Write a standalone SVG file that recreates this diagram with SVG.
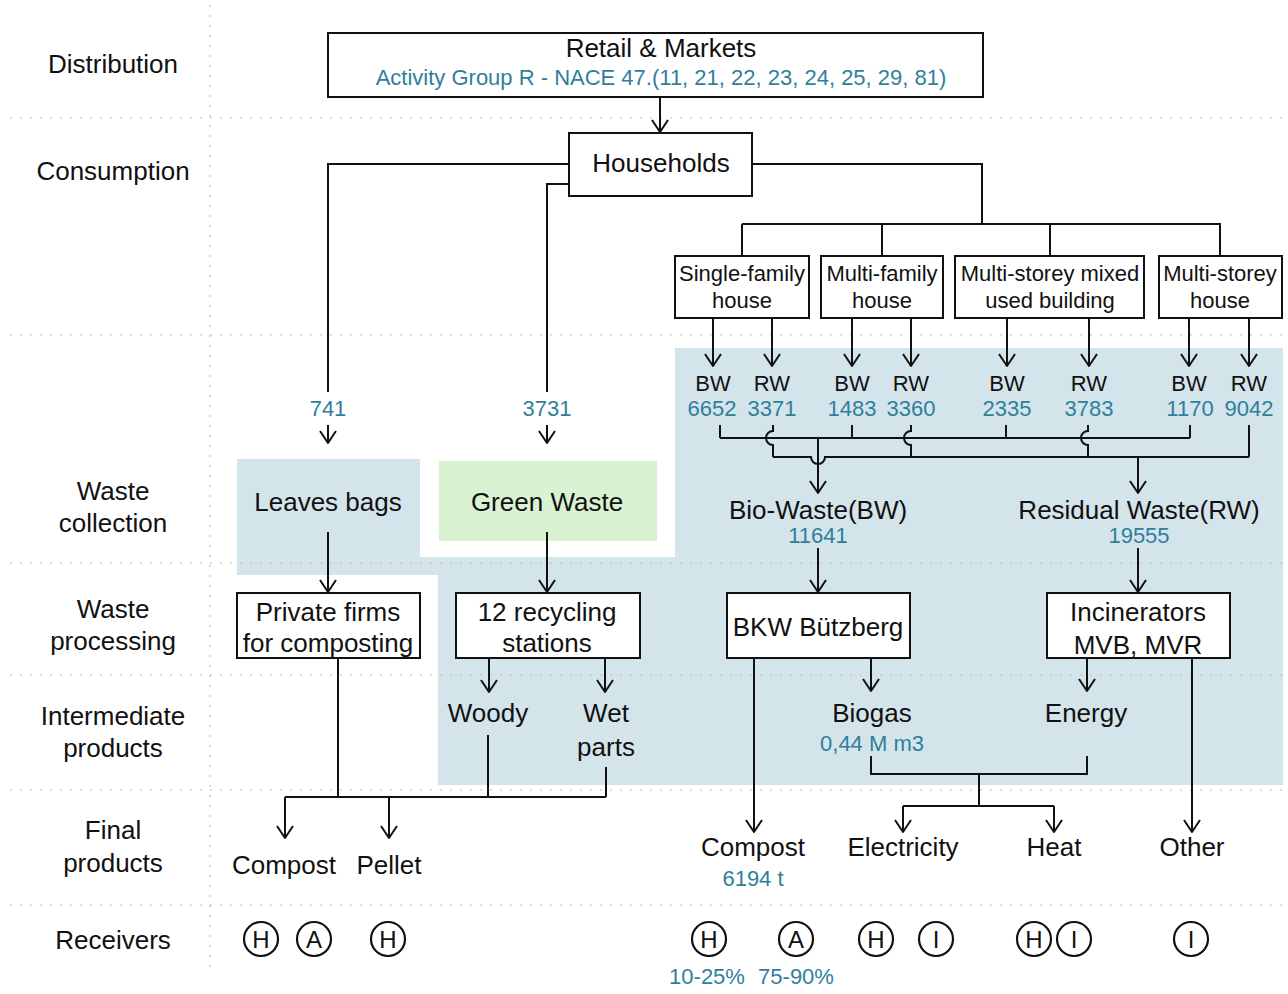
<svg xmlns="http://www.w3.org/2000/svg" width="1288" height="994" viewBox="0 0 1288 994">
<style>
text{font-family:"Liberation Sans",Arial,sans-serif;text-anchor:middle;fill:#111}
.t26{font-size:26px}
.t22{font-size:22px}
.t24{font-size:24px}
.teal{fill:#2f7f9b}
.box{fill:#fff;stroke:#111;stroke-width:2}
.ln{fill:none;stroke:#111;stroke-width:2}
.arr{fill:none;stroke:#111;stroke-width:2;marker-end:url(#ah)}
.grid{fill:none;stroke:#bcbcbc;stroke-width:1.2;stroke-dasharray:2 8}
.circ{fill:#fff;stroke:#111;stroke-width:2.2}
.blue{fill:#d4e4eb}
.green{fill:#d9f2d1}
</style>
<defs>
<marker id="ah" viewBox="-14 -10 16 20" refX="0" refY="0" markerWidth="16" markerHeight="20" markerUnits="userSpaceOnUse" orient="auto" overflow="visible">
<path d="M-12,-8 L0,0 L-12,8" fill="none" stroke="#111" stroke-width="2" stroke-linejoin="round"/>
</marker>
</defs>
<rect width="1288" height="994" fill="#fff"/>

<g id="backgrounds">
<path class="blue" d="M675,348 H1283 V785 H438 V575 H237 V459 H420 V557 H675 Z"/>
<rect class="green" x="439" y="461" width="218" height="80"/>
</g>

<g id="grid">
<line class="grid" x1="210" y1="5" x2="210" y2="975"/>
<line class="grid" x1="10" y1="118" x2="1288" y2="118"/>
<line class="grid" x1="10" y1="335" x2="1288" y2="335"/>
<line class="grid" x1="10" y1="563" x2="1288" y2="563"/>
<line class="grid" x1="10" y1="675" x2="1288" y2="675"/>
<line class="grid" x1="10" y1="790" x2="1288" y2="790"/>
<line class="grid" x1="10" y1="905" x2="1288" y2="905"/>
</g>

<g id="stage-labels">
<text class="t26" x="113" y="73">Distribution</text>
<text class="t26" x="113" y="180">Consumption</text>
<text class="t26" x="113" y="500">Waste</text>
<text class="t26" x="113" y="532">collection</text>
<text class="t26" x="113" y="618">Waste</text>
<text class="t26" x="113" y="650">processing</text>
<text class="t26" x="113" y="725">Intermediate</text>
<text class="t26" x="113" y="757">products</text>
<text class="t26" x="113" y="839">Final</text>
<text class="t26" x="113" y="872">products</text>
<text class="t26" x="113" y="949">Receivers</text>
</g>

<g id="connectors">
<line class="arr" x1="660" y1="97" x2="660" y2="132"/>
<polyline class="ln" points="569,164 328,164 328,392"/>
<polyline class="ln" points="569,184 547,184 547,392"/>
<line class="arr" x1="328" y1="425" x2="328" y2="443"/>
<line class="arr" x1="547" y1="425" x2="547" y2="443"/>
<polyline class="ln" points="752,164 982,164 982,224"/>
<line class="ln" x1="742" y1="224" x2="1221" y2="224"/>
<line class="ln" x1="742" y1="224" x2="742" y2="256"/>
<line class="ln" x1="882" y1="224" x2="882" y2="256"/>
<line class="ln" x1="1050" y1="224" x2="1050" y2="256"/>
<line class="ln" x1="1220" y1="224" x2="1220" y2="256"/>
<line class="arr" x1="713" y1="318" x2="713" y2="366"/>
<line class="arr" x1="772" y1="318" x2="772" y2="366"/>
<line class="arr" x1="852" y1="318" x2="852" y2="366"/>
<line class="arr" x1="911" y1="318" x2="911" y2="366"/>
<line class="arr" x1="1007" y1="318" x2="1007" y2="366"/>
<line class="arr" x1="1089" y1="318" x2="1089" y2="366"/>
<line class="arr" x1="1189" y1="318" x2="1189" y2="366"/>
<line class="arr" x1="1249" y1="318" x2="1249" y2="366"/>
<line class="ln" x1="720" y1="425" x2="720" y2="438"/>
<line class="ln" x1="852" y1="425" x2="852" y2="438"/>
<line class="ln" x1="1006" y1="425" x2="1006" y2="438"/>
<line class="ln" x1="1190" y1="425" x2="1190" y2="438"/>
<line class="ln" x1="720" y1="438" x2="1190" y2="438"/>
<line class="arr" x1="818" y1="438" x2="818" y2="493"/>
<path class="ln" d="M773,425 V431 A7,7 0 0 0 773,445 V457"/>
<path class="ln" d="M911,425 V431 A7,7 0 0 0 911,445 V457"/>
<path class="ln" d="M1088,425 V431 A7,7 0 0 0 1088,445 V457"/>
<line class="ln" x1="1249" y1="425" x2="1249" y2="457"/>
<path class="ln" d="M773,457 H811 A7,7 0 0 0 825,457 H1249"/>
<line class="arr" x1="1138" y1="457" x2="1138" y2="493"/>
<line class="arr" x1="328" y1="532" x2="328" y2="592"/>
<line class="arr" x1="547" y1="532" x2="547" y2="592"/>
<line class="arr" x1="818" y1="548" x2="818" y2="592"/>
<line class="arr" x1="1138" y1="548" x2="1138" y2="592"/>
<line class="arr" x1="489" y1="658" x2="489" y2="692"/>
<line class="arr" x1="605" y1="658" x2="605" y2="692"/>
<line class="arr" x1="871" y1="658" x2="871" y2="691"/>
<line class="arr" x1="1087" y1="658" x2="1087" y2="691"/>
<line class="ln" x1="338" y1="658" x2="338" y2="797"/>
<line class="ln" x1="488" y1="735" x2="488" y2="797"/>
<line class="ln" x1="606" y1="767" x2="606" y2="797"/>
<line class="ln" x1="285" y1="797" x2="606" y2="797"/>
<line class="arr" x1="285" y1="797" x2="285" y2="838"/>
<line class="arr" x1="389" y1="797" x2="389" y2="838"/>
<line class="arr" x1="754" y1="658" x2="754" y2="832"/>
<line class="arr" x1="1192" y1="658" x2="1192" y2="832"/>
<polyline class="ln" points="871,756 871,774 1087,774 1087,756"/>
<line class="ln" x1="979" y1="774" x2="979" y2="806"/>
<line class="ln" x1="903" y1="806" x2="1054" y2="806"/>
<line class="arr" x1="903" y1="806" x2="903" y2="832"/>
<line class="arr" x1="1054" y1="806" x2="1054" y2="832"/>
</g>

<g id="retail">
<rect class="box" x="328" y="33" width="655" height="64"/>
<text class="t26" x="661" y="57">Retail &amp; Markets</text>
<text class="t22 teal" x="661" y="85">Activity Group R - NACE 47.(11, 21, 22, 23, 24, 25, 29, 81)</text>
</g>

<g id="households">
<rect class="box" x="569" y="133" width="183" height="63"/>
<text class="t26" x="661" y="172">Households</text>
</g>

<g id="single-family">
<rect class="box" x="675" y="256" width="134" height="62"/>
<text class="t22" x="742" y="281">Single-family</text>
<text class="t22" x="742" y="308">house</text>
</g>
<g id="multi-family">
<rect class="box" x="821" y="256" width="122" height="62"/>
<text class="t22" x="882" y="281">Multi-family</text>
<text class="t22" x="882" y="308">house</text>
</g>
<g id="mixed-building">
<rect class="box" x="955" y="256" width="189" height="62"/>
<text class="t22" x="1050" y="281">Multi-storey mixed</text>
<text class="t22" x="1050" y="308">used building</text>
</g>
<g id="multi-storey">
<rect class="box" x="1159" y="256" width="123" height="62"/>
<text class="t22" x="1220" y="281">Multi-storey</text>
<text class="t22" x="1220" y="308">house</text>
</g>

<g id="bw-rw-labels">
<text class="t22" x="713" y="391">BW</text>
<text class="t22" x="772" y="391">RW</text>
<text class="t22" x="852" y="391">BW</text>
<text class="t22" x="911" y="391">RW</text>
<text class="t22" x="1007" y="391">BW</text>
<text class="t22" x="1089" y="391">RW</text>
<text class="t22" x="1189" y="391">BW</text>
<text class="t22" x="1249" y="391">RW</text>
<text class="t22 teal" x="712" y="416">6652</text>
<text class="t22 teal" x="772" y="416">3371</text>
<text class="t22 teal" x="852" y="416">1483</text>
<text class="t22 teal" x="911" y="416">3360</text>
<text class="t22 teal" x="1007" y="416">2335</text>
<text class="t22 teal" x="1089" y="416">3783</text>
<text class="t22 teal" x="1190" y="416">1170</text>
<text class="t22 teal" x="1249" y="416">9042</text>
<text class="t22 teal" x="328" y="416">741</text>
<text class="t22 teal" x="547" y="416">3731</text>
</g>

<g id="leaves-bags">
<text class="t26" x="328" y="511">Leaves bags</text>
</g>
<g id="green-waste">
<text class="t26" x="547" y="511">Green Waste</text>
</g>
<g id="bio-waste">
<text class="t26" x="818" y="519">Bio-Waste(BW)</text>
<text class="t22 teal" x="818" y="543">11641</text>
</g>
<g id="residual-waste">
<text class="t26" x="1139" y="519">Residual Waste(RW)</text>
<text class="t22 teal" x="1139" y="543">19555</text>
</g>

<g id="private-firms">
<rect class="box" x="237" y="593" width="183" height="65"/>
<text class="t26" x="328" y="621">Private firms</text>
<text class="t26" x="328" y="652">for composting</text>
</g>
<g id="recycling-stations">
<rect class="box" x="456" y="593" width="184" height="65"/>
<text class="t26" x="547" y="621">12 recycling</text>
<text class="t26" x="547" y="652">stations</text>
</g>
<g id="bkw">
<rect class="box" x="727" y="593" width="183" height="65"/>
<text class="t26" x="818" y="636">BKW Bützberg</text>
</g>
<g id="incinerators">
<rect class="box" x="1047" y="593" width="183" height="65"/>
<text class="t26" x="1138" y="621">Incinerators</text>
<text class="t26" x="1138" y="654">MVB, MVR</text>
</g>

<g id="woody"><text class="t26" x="488" y="722">Woody</text></g>
<g id="wet-parts"><text class="t26" x="606" y="722">Wet</text><text class="t26" x="606" y="756">parts</text></g>
<g id="biogas"><text class="t26" x="872" y="722">Biogas</text><text class="t22 teal" x="872" y="751">0,44 M m3</text></g>
<g id="energy"><text class="t26" x="1086" y="722">Energy</text></g>

<g id="compost-left"><text class="t26" x="284" y="874">Compost</text></g>
<g id="pellet"><text class="t26" x="389" y="874">Pellet</text></g>
<g id="compost-right"><text class="t26" x="753" y="856">Compost</text><text class="t22 teal" x="753" y="886">6194 t</text></g>
<g id="electricity"><text class="t26" x="903" y="856">Electricity</text></g>
<g id="heat"><text class="t26" x="1054" y="856">Heat</text></g>
<g id="other"><text class="t26" x="1192" y="856">Other</text></g>

<g id="receivers">
<circle class="circ" cx="261" cy="939" r="17"/><text class="t24" x="261" y="948">H</text>
<circle class="circ" cx="314" cy="939" r="17"/><text class="t24" x="314" y="948">A</text>
<circle class="circ" cx="388" cy="939" r="17"/><text class="t24" x="388" y="948">H</text>
<circle class="circ" cx="709" cy="939" r="17"/><text class="t24" x="709" y="948">H</text>
<circle class="circ" cx="796" cy="939" r="17"/><text class="t24" x="796" y="948">A</text>
<circle class="circ" cx="876" cy="939" r="17"/><text class="t24" x="876" y="948">H</text>
<circle class="circ" cx="936" cy="939" r="17"/><text class="t24" x="936" y="948">I</text>
<circle class="circ" cx="1034" cy="939" r="17"/><text class="t24" x="1034" y="948">H</text>
<circle class="circ" cx="1074" cy="939" r="17"/><text class="t24" x="1074" y="948">I</text>
<circle class="circ" cx="1191" cy="939" r="17"/><text class="t24" x="1191" y="948">I</text>
<text class="t22 teal" x="707" y="984">10-25%</text>
<text class="t22 teal" x="796" y="984">75-90%</text>
</g>
</svg>
